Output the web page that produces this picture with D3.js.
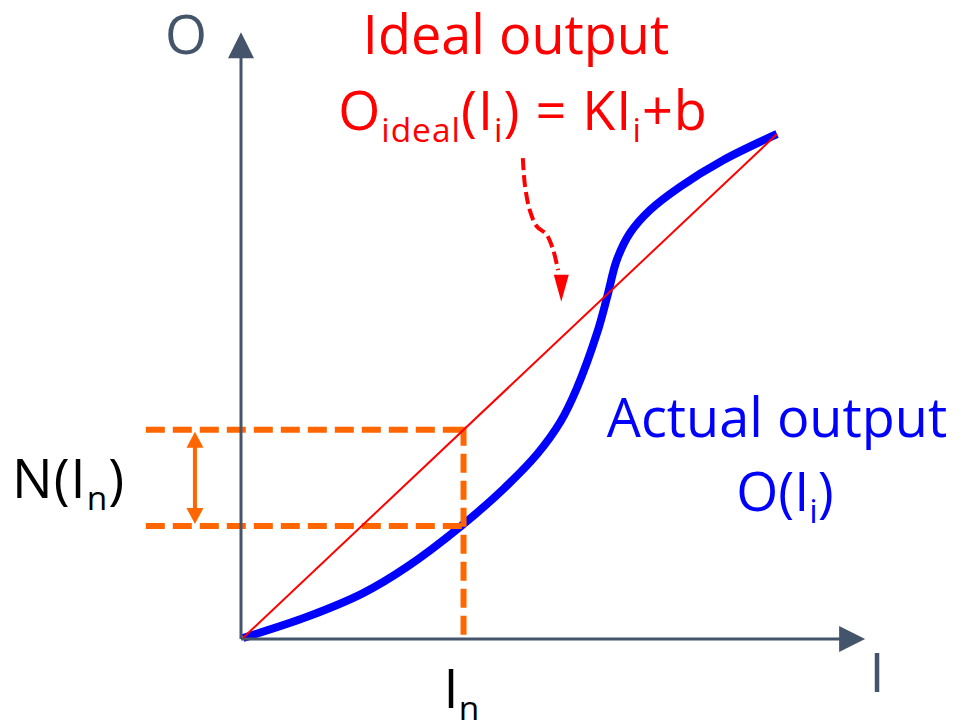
<!DOCTYPE html>
<html>
<head>
<meta charset="utf-8">
<script src="https://cdn.jsdelivr.net/npm/d3@7"></script>
<style>
  body { margin: 0; background: #fff; }
  text { font-family: "Open Sans", "Noto Sans", sans-serif; }
</style>
</head>
<body>
<svg id="chart"></svg>
<script>
// 尺寸
var width = 961;
var height = 728;

// 数据 (I, O in arbitrary units 0..10)
var idealLine = [[0, 0], [10, 10]];
var actualI = [0, 1.20, 2.25, 3.07, 4.06, 4.87, 5.51, 5.95, 6.25, 6.63, 6.82, 7.00, 7.25, 7.62, 8.18, 8.99, 10];
var actualO = [0, 0.42, 0.89, 1.41, 2.20, 2.95, 3.65, 4.30, 4.95, 6.05, 6.77, 7.50, 8.04, 8.49, 8.95, 9.48, 10];
var In = 4.13;           // the chosen input
var nIdeal = 4.13;       // O_ideal(In)
var nActual = 2.22;      // O(In)
var nLeft = -1.82;       // left end of the orange guides
var nArrowI = -0.90;     // position of the N(In) double arrow
var axisMax = {I: 11.65, O: 12.02};
// pointer from the formula to the ideal line
var pointerI = [5.24, 5.28, 5.37, 5.50, 5.68, 5.80, 5.90];
var pointerO = [9.52, 8.98, 8.49, 8.17, 8.01, 7.73, 7.30];
var pointerTip = [5.96, 6.67];

var svg = d3.select("#chart")
    .attr("width", width)
    .attr("height", height);

// 比例尺
var x = d3.scaleLinear().domain([0, 10]).range([243, 777]);
var y = d3.scaleLinear().domain([0, 10]).range([638, 134]);

var axisColor = "#44546A";
var orange = "#FF6600";

// 实际输出曲线
var actual = actualI.map((d, i) => [d, actualO[i]]);
var line = d3.line()
    .x(d => x(d[0]))
    .y(d => y(d[1]))
    .curve(d3.curveCatmullRom.alpha(0.5));

svg.append("path")
    .datum(actual)
    .attr("fill", "none")
    .attr("stroke", "#0000FF")
    .attr("stroke-width", 8)
    .attr("d", line);

// 橙色虚线
var dash = "19, 8";
svg.append("line")
    .attr("x1", x(nLeft)).attr("x2", x(In) + 3)
    .attr("y1", y(nIdeal)).attr("y2", y(nIdeal))
    .attr("stroke", orange).attr("stroke-width", 6)
    .style("stroke-dasharray", dash);
svg.append("line")
    .attr("x1", x(nLeft)).attr("x2", x(In) + 3)
    .attr("y1", y(nActual)).attr("y2", y(nActual))
    .attr("stroke", orange).attr("stroke-width", 6)
    .style("stroke-dasharray", dash);
svg.append("line")
    .attr("x1", x(In)).attr("x2", x(In))
    .attr("y1", y(nIdeal) - 3).attr("y2", y(0))
    .attr("stroke", orange).attr("stroke-width", 6)
    .style("stroke-dasharray", dash);

// N(In) 双箭头
var ax = x(nArrowI), ay1 = y(nIdeal) + 2, ay2 = y(nActual) - 2;
svg.append("line")
    .attr("x1", ax).attr("x2", ax)
    .attr("y1", ay1 + 12).attr("y2", ay2 - 12)
    .attr("stroke", orange).attr("stroke-width", 4);
svg.append("path")
    .attr("fill", orange)
    .attr("d", `M${ax},${ay1} L${ax - 8.5},${ay1 + 16} L${ax + 8.5},${ay1 + 16} Z`);
svg.append("path")
    .attr("fill", orange)
    .attr("d", `M${ax},${ay2} L${ax - 8.5},${ay2 - 16} L${ax + 8.5},${ay2 - 16} Z`);

// 坐标轴
var ox = x(0) - 2, oy = y(0) + 1;
svg.append("line")
    .attr("x1", ox).attr("x2", ox)
    .attr("y1", oy).attr("y2", y(axisMax.O) + 20)
    .attr("stroke", axisColor).attr("stroke-width", 3);
svg.append("path")
    .attr("fill", axisColor)
    .attr("d", `M${ox},${y(axisMax.O)} L${ox - 13},${y(axisMax.O) + 26} L${ox + 13},${y(axisMax.O) + 26} Z`);
svg.append("line")
    .attr("x1", ox).attr("x2", x(axisMax.I) - 20)
    .attr("y1", oy).attr("y2", oy)
    .attr("stroke", axisColor).attr("stroke-width", 3);
svg.append("path")
    .attr("fill", axisColor)
    .attr("d", `M${x(axisMax.I)},${oy} L${x(axisMax.I) - 26},${oy - 13} L${x(axisMax.I) - 26},${oy + 13} Z`);

// 理想输出直线
svg.append("path")
    .datum(idealLine)
    .attr("fill", "none")
    .attr("stroke", "#FF0000")
    .attr("stroke-width", 2)
    .attr("d", d3.line().x(d => x(d[0])).y(d => y(d[1])));

// 红色虚线指示箭头
var pointer = pointerI.map((d, i) => [d, pointerO[i]]);
svg.append("path")
    .datum(pointer)
    .attr("fill", "none")
    .attr("stroke", "#FF0000")
    .attr("stroke-width", 4)
    .style("stroke-dasharray", "12, 5")
    .attr("d", d3.line().x(d => x(d[0])).y(d => y(d[1])).curve(d3.curveCatmullRom));
var tx = x(pointerTip[0]), ty = y(pointerTip[1]);
svg.append("path")
    .attr("fill", "#FF0000")
    .attr("d", `M${tx},${ty} L${tx - 7.5},${ty - 27} L${tx + 7.5},${ty - 27} Z`);

// 文字
var fs = 54;
function label(px, py, color, anchor) {
    return svg.append("text")
        .attr("x", px).attr("y", py)
        .attr("fill", color)
        .attr("font-size", fs)
        .attr("text-anchor", anchor || "start");
}
function sub(t, s) {
    t.append("tspan").attr("font-size", fs * 0.62).attr("dy", 12).text(s);
    return t;
}
function unsub(t, s) {
    t.append("tspan").attr("dy", -12).text(s);
    return t;
}

label(186, 54, axisColor, "middle").text("O");
label(x(axisMax.I) + 12, 692, axisColor, "middle").text("I");

label(516, 54, "#FF0000", "middle").text("Ideal output");
var f = label(523, 130, "#FF0000", "middle").attr("letter-spacing", 1).text("O");
sub(f, "ideal"); unsub(f, "(I");
sub(f, "i"); unsub(f, ")\u00a0= KI");
sub(f, "i"); unsub(f, "+b");

label(777, 437, "#0000FF", "middle").text("Actual output");
var a = label(785, 511, "#0000FF", "middle").text("O(I");
sub(a, "i"); unsub(a, ")");

var n = label(12, 498, "#000000").attr("letter-spacing", 1).text("N(I");
sub(n, "n"); unsub(n, ")");

var i = label(x(In) - 20, 708, "#000000").text("I");
sub(i, "n");
</script>
</body>
</html>
